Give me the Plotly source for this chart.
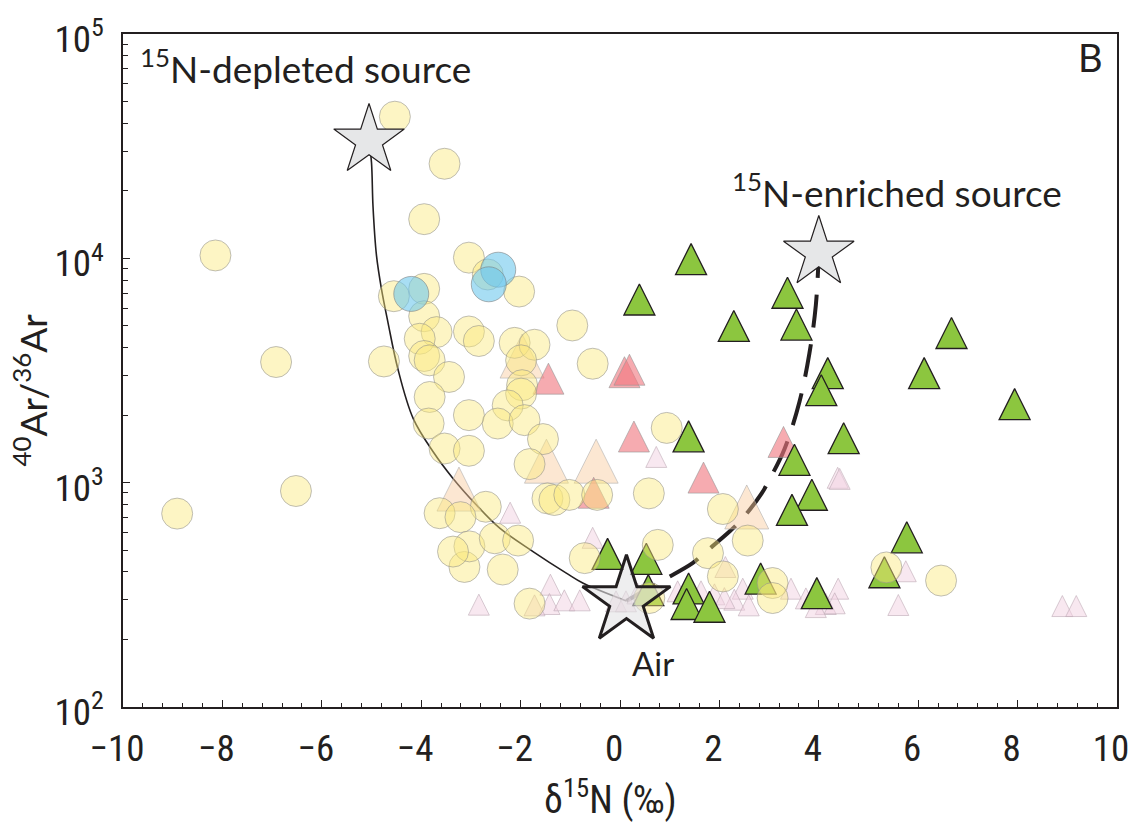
import plotly.graph_objects as go

# ---------------- data ----------------
# yellow circles
yellow_x = [-4.53, -3.53, -3.94, -8.14, -3.04, -2.66, -2.03, -4.55, -3.94, -3.94,
            -0.96, -3.69, -4.03, -3.04, -2.84, -2.12, -1.72, -6.92, -4.75, -3.94,
            -3.83, -0.55, -1.99, -3.44, -3.83, -1.97, -1.99, -2.26, -3.04, -3.85,
            -2.46, -1.92, -3.53, -3.04, -1.55, -1.82, 0.94, -6.52, -8.91, -1.46,
            -1.32, -1.02, -0.46, 0.58, -2.70, -3.63, -3.21, -3.13, -3.03, -3.36,
            -2.52, -2.05, -2.36, -0.71, -1.82, 0.76, 2.07, 2.57, 1.77, 2.07,
            3.07, 3.07, 0.59, 5.36, 6.46]
yellow_y = [42800, 26400, 14950, 10300, 10070, 8470, 7110, 6780, 7310, 5520,
            5020, 4690, 4380, 4720, 4280, 4200, 4120, 3450, 3470, 3670,
            3510, 3390, 3510, 2960, 2410, 2720, 2495, 2210, 2000, 1835,
            1835, 1900, 1420, 1387, 1564, 1210, 1754, 918, 728, 851,
            837, 882, 882, 896, 781, 731, 702, 421, 520, 493,
            565, 552, 410, 461, 289, 528, 763, 552, 485, 382,
            357, 306, 306, 419, 366]

# blue circles
blue_x = [-2.45, -2.64, -4.20]
blue_y = [8900, 7660, 6940]

# green triangles
green_x = [1.43, 0.39, 3.37, 2.29, 3.55, 6.67, 6.12, 4.18, 4.05, 7.94,
           1.38, 4.50, 3.51, 3.86, 3.46, 5.77, 5.32, 2.83, 3.96, 1.38,
           1.34, 1.80, -0.25, 0.53, 0.57]
green_y = [9930, 6560, 7030, 5000, 5070, 4650, 3080, 3080, 2585, 2240,
           1610, 1580, 1265, 884, 757, 571, 399, 374, 322, 338,
           288, 280, 482, 458, 332]

# pink triangles
pink_x = [-1.44, 0.09, 0.19, 0.28, 3.29, 1.68, -0.53]
pink_y = [2910, 3110, 3190, 1607, 1520, 1054, 902]

# large peach triangles
peach_x = [-1.97, -1.48, -0.48, -3.24, 2.55]
peach_y = [3670, 1248, 1248, 937, 780]

# small lavender triangles
lav_x = [-2.84, -2.21, -1.40, -1.42, -1.12, -0.81, -1.72, -0.55, 0.73, 4.38,
         4.42, 2.12, 2.47, 2.30, 2.59, 3.44, 3.74, 4.14, 4.39, 4.32,
         5.75, 5.60, 8.90, 9.18, 1.90, -0.08, 0.12, 0.35, 1.16, 1.63,
         2.10, 3.94]
lav_y = [286, 735, 351, 288, 299, 299, 284, 568, 1303, 1052,
         1040, 421, 337, 301, 284, 337, 305, 288, 337, 290,
         403, 285, 282, 282, 318, 296, 296, 321, 328, 328,
         306, 279]

# end-members
source_x = [-5.05, 4.0]
source_y = [33500, 10600]
air_x = [0.13]
air_y = [297]

# mixing curves
dep_x = [-5.05, -5.00, -4.97, -4.90, -4.80, -4.67, -4.47, -4.16, -3.76, -3.36,
         -2.89, -2.42, -1.75, -1.08, -0.75, 0.13]
dep_y = [33500, 26700, 17100, 10300, 7310, 5200, 3220, 1930, 1374, 1045,
         796, 627, 493, 395, 357, 297]
enr_x = [0.13, 0.43, 0.89, 1.46, 1.72, 2.22, 2.46, 2.85, 3.02, 3.31, 3.61, 3.81, 3.94, 4.0]
enr_y = [297, 325, 370, 438, 490, 610, 690, 896, 1045, 1413, 2290, 3760, 6170, 10600]

# axes
x_ticks = [-10, -8, -6, -4, -2, 0, 2, 4, 6, 8, 10]
y_ticks = [100, 1000, 10000, 100000]
y_ticktext = ["10<sup>2</sup>", "10<sup>3</sup>", "10<sup>4</sup>", "10<sup>5</sup>"]
y_minor = [m * 10 ** e for e in (2, 3, 4) for m in range(2, 10)]
Y_RANGE_LOG = [2, 5]

# ---------------- styling / geometry ----------------
INK = "#231F20"
TEXT_FONT = "Lato, 'Open Sans', sans-serif"
NARROW_FONT = "'Liberation Sans Narrow', 'Roboto Condensed', Roboto, sans-serif"
W, H = 1141, 822
M = dict(l=123, r=24, t=31, b=115)
PX_PER_DECADE = (H - M["t"] - M["b"]) / (Y_RANGE_LOG[1] - Y_RANGE_LOG[0])

SIZE_LAV, SIZE_TRI, SIZE_PEACH = 21, 31, 44


def lifted_range(px):
    """Overlay-axis range that draws an apex-anchored triangle centred on its value."""
    d = px / PX_PER_DECADE
    return [Y_RANGE_LOG[0] - d, Y_RANGE_LOG[1] - d]


fig = go.Figure()

# curves (bottom layer, main axes)
fig.add_trace(go.Scatter(x=dep_x, y=dep_y, mode="lines",
                         line=dict(color=INK, width=1.6, shape="spline", smoothing=1.0),
                         hoverinfo="skip", showlegend=False))
fig.add_trace(go.Scatter(x=enr_x, y=enr_y, mode="lines",
                         line=dict(color=INK, width=4, dash="33px,17px", shape="spline", smoothing=1.0),
                         hoverinfo="skip", showlegend=False))


def tri(x, y, size, fill, line_color, line_width, yaxis):
    return go.Scatter(x=x, y=y, mode="markers", showlegend=False, yaxis=yaxis,
                      marker=dict(symbol="arrow-up", size=size,
                                  color=fill, line=dict(color=line_color, width=line_width)))


fig.add_trace(tri(lav_x, lav_y, SIZE_LAV, "rgba(241,209,225,0.5)", "rgba(190,170,182,0.6)", 1, "y2"))
fig.add_trace(tri(peach_x, peach_y, SIZE_PEACH, "rgba(249,201,155,0.45)", "rgba(170,170,170,0.55)", 1, "y3"))
fig.add_trace(tri(pink_x, pink_y, SIZE_TRI, "rgba(240,120,128,0.62)", "rgba(150,150,150,0.6)", 1, "y4"))
fig.add_trace(tri(green_x, green_y, SIZE_TRI, "#8CC63F", INK, 1.3, "y4"))

fig.add_trace(go.Scatter(x=yellow_x, y=yellow_y, mode="markers", showlegend=False, yaxis="y5",
                         marker=dict(symbol="circle", size=31, color="rgba(250,233,125,0.45)",
                                     line=dict(color="rgba(140,140,140,0.55)", width=1))))
fig.add_trace(go.Scatter(x=blue_x, y=blue_y, mode="markers", showlegend=False, yaxis="y5",
                         marker=dict(symbol="circle", size=35, color="rgba(110,200,236,0.6)",
                                     line=dict(color="rgba(120,120,120,0.55)", width=1))))

# stars
fig.add_trace(go.Scatter(x=source_x, y=source_y, mode="markers", showlegend=False, yaxis="y5",
                         marker=dict(symbol="star", size=53, color="#E6E7E8",
                                     line=dict(color=INK, width=1.2))))
fig.add_trace(go.Scatter(x=air_x, y=air_y, mode="markers", showlegend=False, yaxis="y5",
                         marker=dict(symbol="star", size=66, color="rgba(226,227,228,0.6)",
                                     line=dict(color=INK, width=3))))

# annotations
annots = [
    dict(text="<sup>15</sup>N-depleted source", x=0.0151, y=0.953, xanchor="left", yanchor="middle",
         font=dict(family=TEXT_FONT, size=37, color=INK)),
    dict(text="<sup>15</sup>N-enriched source", x=0.6107, y=0.768, xanchor="left", yanchor="middle",
         font=dict(family=TEXT_FONT, size=37, color=INK)),
    dict(text="Air", x=0.533, y=0.066, xanchor="center", yanchor="middle",
         font=dict(family=TEXT_FONT, size=33, color=INK)),
    dict(text="B", x=0.973, y=0.966, xanchor="center", yanchor="middle",
         font=dict(family=TEXT_FONT, size=38, color=INK)),
    dict(text="δ<sup>15</sup>N (‰)", x=0.49, y=-0.133, xanchor="center", yanchor="middle",
         font=dict(family=NARROW_FONT, size=38, color=INK)),
    dict(text="<sup>40</sup>Ar/<sup>36</sup>Ar", x=-0.0936, y=0.4717, xanchor="center", yanchor="middle",
         textangle=-90, font=dict(family=TEXT_FONT, size=37, color=INK)),
]
for a in annots:
    a.update(xref="paper", yref="paper", showarrow=False)

overlay = dict(overlaying="y", type="log", visible=False, showgrid=False, zeroline=False)
fig.update_layout(
    width=W, height=H, autosize=False,
    margin=M,
    paper_bgcolor="white", plot_bgcolor="white",
    annotations=annots,
    showlegend=False,
    yaxis2=dict(overlay, range=lifted_range(SIZE_LAV / 2)),
    yaxis3=dict(overlay, range=lifted_range(SIZE_PEACH / 2)),
    yaxis4=dict(overlay, range=lifted_range(SIZE_TRI / 2)),
    yaxis5=dict(overlay, range=Y_RANGE_LOG),
)

fig.update_xaxes(range=[-10, 10], tickmode="array", tickvals=x_ticks,
                 ticks="inside", ticklen=7, tickwidth=1.2, tickcolor=INK,
                 showline=True, linecolor=INK, linewidth=1.6, mirror=True,
                 showgrid=False, zeroline=False,
                 minor=dict(dtick=0.4, tick0=0, ticks="inside", ticklen=4, tickwidth=1, tickcolor=INK, showgrid=False),
                 tickfont=dict(family=NARROW_FONT, size=37, color=INK),
                 ticklabelstandoff=8, ticklabelshift=-6)
fig.update_layout(yaxis=dict(type="log", range=Y_RANGE_LOG, tickmode="array", tickvals=y_ticks, ticktext=y_ticktext,
                             ticks="inside", ticklen=7, tickwidth=1.2, tickcolor=INK,
                             showline=True, linecolor=INK, linewidth=1.6, mirror=True,
                             showgrid=False, zeroline=False,
                             minor=dict(tickmode="array", tickvals=y_minor, ticks="inside", ticklen=5, tickwidth=1,
                                        tickcolor=INK, showgrid=False),
                             tickfont=dict(family=NARROW_FONT, size=37, color=INK),
                             ticklabelstandoff=10, ticklabelshift=5))

fig.write_html("out.html")
